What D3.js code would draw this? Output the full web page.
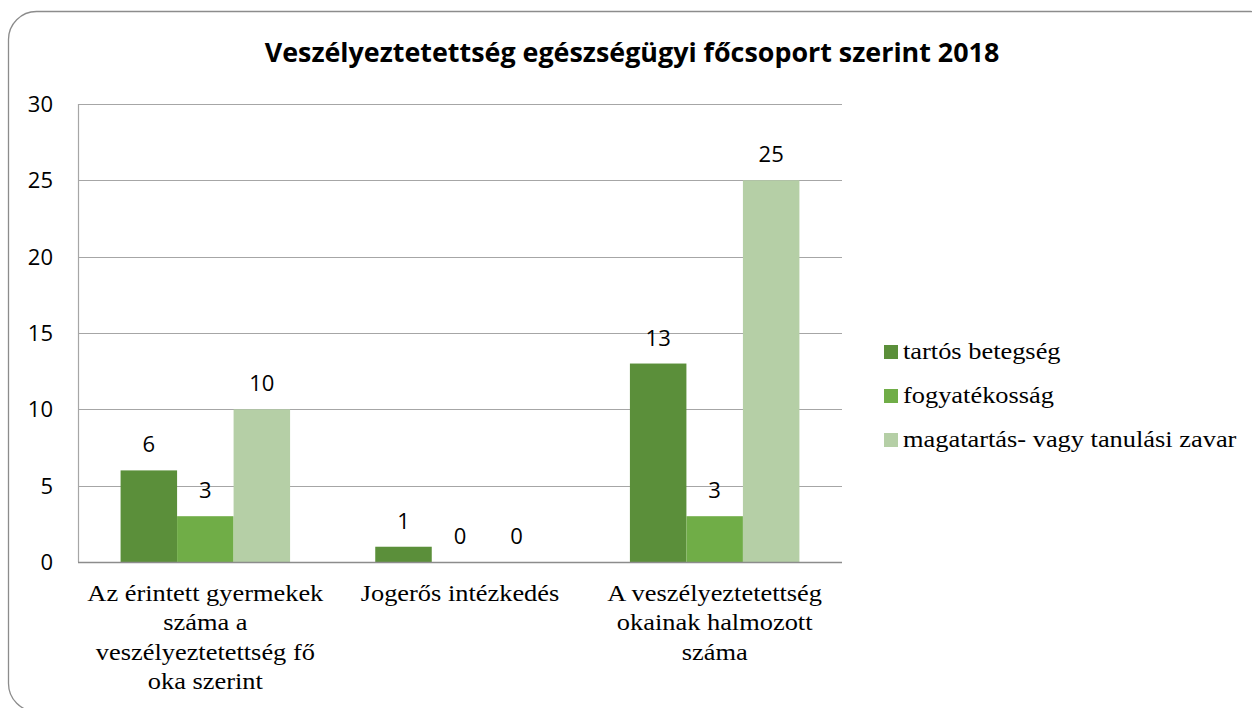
<!DOCTYPE html>
<html>
<head>
<meta charset="utf-8">
<script src="https://cdn.jsdelivr.net/npm/d3@7"></script>
<style>
  html, body { margin: 0; padding: 0; background: #fff; }
  svg { display: block; }
</style>
</head>
<body>
<div id="chart"></div>
<script>
// chart data
const title = 'Veszélyeztetettség egészségügyi főcsoport szerint 2018';
const categories = [
    ['Az érintett gyermekek', 'száma a', 'veszélyeztetettség fő', 'oka szerint'],
    ['Jogerős intézkedés'],
    ['A veszélyeztetettség', 'okainak halmozott', 'száma']
];
const seriesNames = ['tartós betegség', 'fogyatékosság', 'magatartás- vagy tanulási zavar'];
const tartosBetegseg = [6, 1, 13];
const fogyatekossag = [3, 0, 3];
const magatartas = [10, 0, 25];
const yTicks = [0, 5, 10, 15, 20, 25, 30];

const seriesValues = [tartosBetegseg, fogyatekossag, magatartas];
const colors = ['#5b8f3a', '#70ad47', '#b5cfa6'];

const width = 1252, height = 708;
const plot = { left: 78, right: 842, top: 104, bottom: 562 };
const serif = '"Liberation Serif", "Times New Roman", serif';
const sans = '"Open Sans", sans-serif';
const serifStretch = 1.1;

const svg = d3.select('#chart').append('svg')
    .attr('width', width)
    .attr('height', height);

// outer rounded frame (runs off the right and bottom edge)
svg.append('rect')
    .attr('x', 8.5).attr('y', 11.5)
    .attr('width', 1270).attr('height', 700)
    .attr('rx', 28).attr('ry', 28)
    .attr('fill', '#fff')
    .attr('stroke', '#8c8c8c')
    .attr('stroke-width', 1.3);

// title, scaled to the reference width
const t = svg.append('text')
    .attr('x', 632).attr('y', 62)
    .attr('text-anchor', 'middle')
    .style('font-family', sans)
    .style('font-weight', 'bold')
    .style('font-size', '24px')
    .attr('fill', '#000')
    .text(title);
const tw = t.node().getComputedTextLength();
t.style('font-size', (24 * 735 / tw) + 'px');

const x0 = d3.scaleBand()
    .domain(d3.range(categories.length))
    .range([plot.left, plot.right]);

const barW = 56.5;
const groupW = barW * 3;
const x1 = d3.scaleBand()
    .domain(d3.range(seriesNames.length))
    .range([0, groupW]);

const y = d3.scaleLinear().domain([0, 30]).range([plot.bottom, plot.top]);

// gridlines
svg.append('g')
    .selectAll('line')
    .data(yTicks.filter(d => d > 0))
    .enter().append('line')
    .attr('x1', plot.left).attr('x2', plot.right)
    .attr('y1', d => Math.round(y(d)) + 0.5)
    .attr('y2', d => Math.round(y(d)) + 0.5)
    .attr('stroke', '#a6a6a6')
    .attr('stroke-width', 1.2);

// left axis line
svg.append('line')
    .attr('x1', plot.left + 0.5).attr('x2', plot.left + 0.5)
    .attr('y1', plot.top).attr('y2', plot.bottom)
    .attr('stroke', '#a6a6a6')
    .attr('stroke-width', 1.2);

// y tick labels
svg.append('g')
    .selectAll('text')
    .data(yTicks)
    .enter().append('text')
    .attr('x', 53)
    .attr('y', d => y(d) + 8)
    .attr('text-anchor', 'end')
    .style('font-family', sans)
    .style('font-size', '22px')
    .attr('fill', '#000')
    .text(d => d);

// bars
const groups = svg.append('g')
    .selectAll('g')
    .data(categories)
    .enter().append('g')
    .attr('transform', (d, i) => `translate(${x0(i) + (x0.bandwidth() - groupW) / 2}, 0)`);

groups.selectAll('rect')
    .data((d, i) => seriesValues.map((s, k) => ({ k, v: s[i] })))
    .enter().append('rect')
    .attr('x', d => x1(d.k))
    .attr('y', d => y(d.v))
    .attr('width', x1.bandwidth())
    .attr('height', d => plot.bottom - y(d.v))
    .attr('fill', d => colors[d.k]);

// data labels
groups.selectAll('text')
    .data((d, i) => seriesValues.map((s, k) => ({ k, v: s[i] })))
    .enter().append('text')
    .attr('x', d => x1(d.k) + x1.bandwidth() / 2)
    .attr('y', d => y(d.v) - 18)
    .attr('text-anchor', 'middle')
    .style('font-family', sans)
    .style('font-size', '22px')
    .attr('fill', '#000')
    .text(d => d.v);

// x axis line
svg.append('line')
    .attr('x1', plot.left).attr('x2', plot.right)
    .attr('y1', plot.bottom + 0.5).attr('y2', plot.bottom + 0.5)
    .attr('stroke', '#8c8c8c')
    .attr('stroke-width', 1.5);

// category labels
svg.append('g')
    .selectAll('text')
    .data(categories)
    .enter().append('text')
    .attr('transform', (d, i) => `translate(${x0(i) + x0.bandwidth() / 2}, 601) scale(${serifStretch}, 1)`)
    .attr('text-anchor', 'middle')
    .style('font-family', serif)
    .style('font-size', '24px')
    .attr('fill', '#000')
    .each(function (lines) {
        d3.select(this).selectAll('tspan')
            .data(lines)
            .enter().append('tspan')
            .attr('x', 0)
            .attr('dy', (d, j) => j === 0 ? 0 : 29.5)
            .text(d => d);
    });

// legend
const legend = svg.append('g')
    .selectAll('g')
    .data(seriesNames)
    .enter().append('g')
    .attr('transform', (d, i) => `translate(884, ${359 + i * 44})`);

legend.append('rect')
    .attr('x', 0).attr('y', -14)
    .attr('width', 14).attr('height', 14)
    .attr('fill', (d, i) => colors[i]);

legend.append('text')
    .attr('transform', `translate(19, 0) scale(${serifStretch}, 1)`)
    .style('font-family', serif)
    .style('font-size', '24px')
    .attr('fill', '#000')
    .text(d => d);
</script>
</body>
</html>
